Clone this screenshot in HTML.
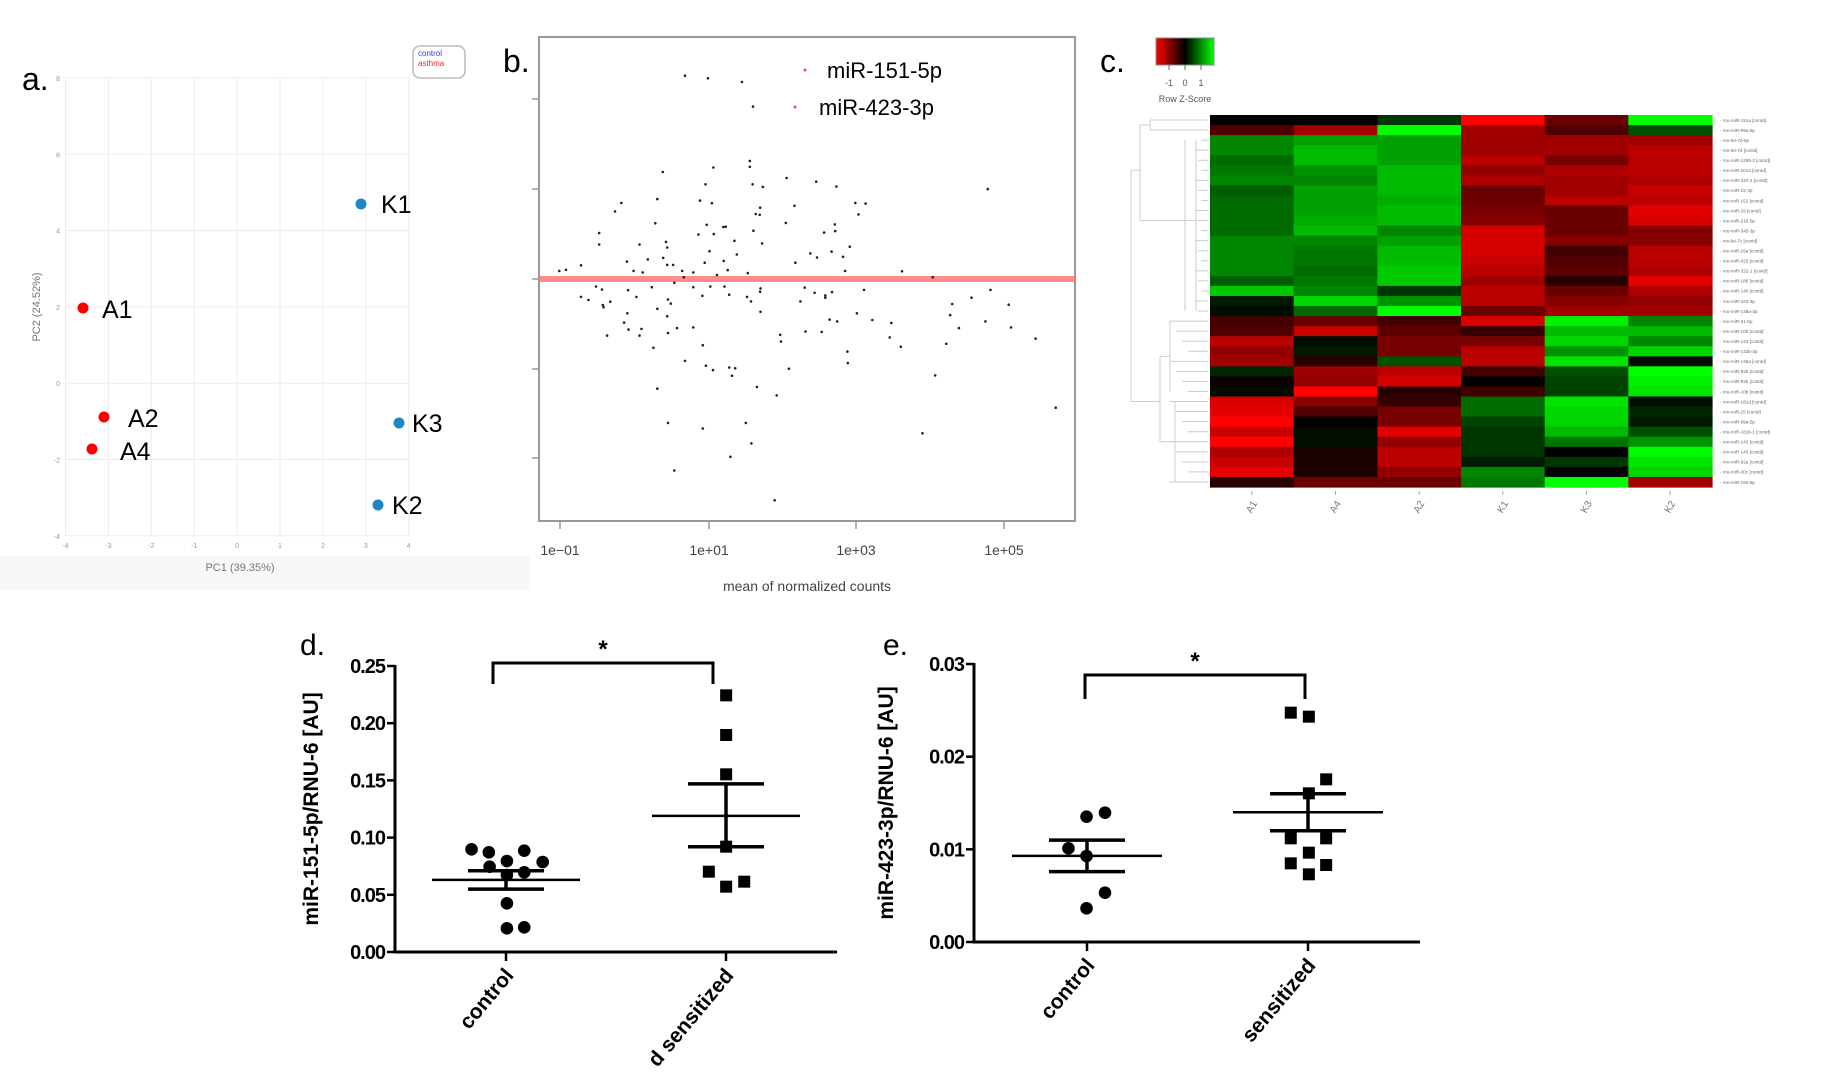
<!DOCTYPE html>
<html><head><meta charset="utf-8"><style>
html,body{margin:0;padding:0;background:#fff;}
svg{display:block;font-family:"Liberation Sans",Arial,sans-serif;}
</style></head><body>
<svg id="s" width="1824" height="1080" viewBox="0 0 1824 1080" xmlns="http://www.w3.org/2000/svg">
<rect width="1824" height="1080" fill="#fff"/>
<!-- panel a -->
<rect x="0" y="556" width="530" height="34" fill="#f7f8fa"/>
<g id="pa"></g>
<text x="22" y="90" font-size="32">a.</text>
<rect x="413" y="46" width="52" height="32" rx="7" fill="#fff" stroke="#bbb" stroke-width="1.5"/>
<text x="418" y="56" font-size="8" fill="#33f">control</text>
<text x="418" y="66" font-size="8" fill="#f22">asthma</text>
<text x="240" y="571" font-size="11" fill="#777" text-anchor="middle">PC1 (39.35%)</text>
<text transform="translate(40,307) rotate(-90)" font-size="11" fill="#777" text-anchor="middle">PC2 (24.52%)</text>
<!-- panel b -->
<text x="503" y="72" font-size="32">b.</text>
<rect x="539" y="37" width="536" height="484" fill="none" stroke="#999" stroke-width="2"/>
<rect x="539" y="276" width="536" height="6" fill="#f77" opacity="0.85"/>
<g id="pb"></g>
<circle cx="805" cy="70" r="1.5" fill="#f44"/><circle cx="795" cy="107" r="1.5" fill="#f44"/>
<text x="827" y="78" font-size="22">miR-151-5p</text>
<text x="819" y="115" font-size="22">miR-423-3p</text>
<text x="807" y="591" font-size="14" fill="#444" text-anchor="middle">mean of normalized counts</text>
<!-- panel c -->
<text x="1100" y="72" font-size="32">c.</text>
<defs><linearGradient id="cb" x1="0" x2="1"><stop offset="0" stop-color="#f00"/><stop offset="0.5" stop-color="#000"/><stop offset="1" stop-color="#0f0"/></linearGradient></defs>
<rect x="1156" y="38" width="58" height="27" fill="url(#cb)" stroke="#888"/>
<g stroke="#666"><line x1="1169" y1="65" x2="1169" y2="70"/><line x1="1185" y1="65" x2="1185" y2="70"/><line x1="1201" y1="65" x2="1201" y2="70"/></g>
<text x="1169" y="86" font-size="9" fill="#555" text-anchor="middle">-1</text>
<text x="1185" y="86" font-size="9" fill="#555" text-anchor="middle">0</text>
<text x="1201" y="86" font-size="9" fill="#555" text-anchor="middle">1</text>
<text x="1185" y="102" font-size="9" fill="#555" text-anchor="middle">Row Z-Score</text>
<g id="pc"></g>
<!-- panel d -->
<g id="pd"></g>
<text x="300" y="655" font-size="30">d.</text>
<text x="883" y="655" font-size="30">e.</text>
</svg>
<script>
const NS="http://www.w3.org/2000/svg";
function el(p,t,a,txt){const e=document.createElementNS(NS,t);for(const k in a)e.setAttribute(k,a[k]);if(txt!==undefined)e.textContent=txt;document.getElementById(p).appendChild(e);return e;}
// panel a
for(let i=0;i<=8;i++){const x=65.5+i*42.9;el('pa','line',{x1:x,y1:78,x2:x,y2:536,stroke:'#ececec'});el('pa','text',{x:x,y:548,'font-size':7,fill:'#999','text-anchor':'middle'},String(i-4));}
for(let i=0;i<=6;i++){const y=78+i*76.3;el('pa','line',{x1:65.5,y1:y,x2:408.6,y2:y,stroke:'#ececec'});el('pa','text',{x:60,y:y+3,'font-size':7,fill:'#999','text-anchor':'end'},String(8-2*i));}
[[361,204,'#1f86c4','K1',381,213],[83,308,'#f00','A1',102,318],[104,417,'#f00','A2',128,427],[92,449,'#f00','A4',120,460],[399,423,'#1f86c4','K3',412,432],[378,505,'#1f86c4','K2',392,514]].forEach(p=>{el('pa','circle',{cx:p[0],cy:p[1],r:5.5,fill:p[2]});el('pa','text',{x:p[4],y:p[5],'font-size':25},p[3]);});
// panel b
[99,189,279,369,458].forEach(y=>el('pb','line',{x1:532,y1:y,x2:539,y2:y,stroke:'#999','stroke-width':1.5}));
[[560,'1e−01'],[709,'1e+01'],[856,'1e+03'],[1004,'1e+05']].forEach(t=>{el('pb','line',{x1:t[0],y1:521,x2:t[0],y2:529,stroke:'#999','stroke-width':1.5});el('pb','text',{x:t[0],y:555,'font-size':14,fill:'#444','text-anchor':'middle'},t[1]);});
const P=[[150,648],[167,645],[205,633],[205,718],[224,726],[243,690],[251,546],[251,577],[258,698],[260,740],[262,746],[271,822],[279,731],[291,488],[307,465],[314,787],[321,623],[322,762],[324,700],[325,806],[338,648],[345,718],[353,577],[353,822],[358,804],[361,652],[374,617],[384,692],[388,855],[393,520],[398,455],[398,750],[398,965],[412,382],[413,613],[420,570],[423,585],[423,632],[423,770],[425,725],[425,815],[425,1057],[432,736],[438,632],[441,680],[441,1185],[448,802],[461,648],[465,665],[468,123],[468,890],[489,652],[489,692],[489,800],[502,550],[506,459],[512,715],[513,848],[513,1072],[518,626],[520,415],[521,903],[523,524],[526,130],[530,595],[532,690],[536,466],[539,915],[540,370],[541,549],[549,659],[565,530],[566,621],[568,690],[571,529],[576,646],[580,712],[580,908],[583,1148],[587,930],[593,567],[595,910],[599,604],[612,140],[622,1057],[625,718],[627,654],[632,352],[632,368],[635,730],[636,1112],[639,415],[640,206],[641,540],[647,495],[650,960],[657,497],[658,478],[658,704],[659,695],[659,758],[663,574],[665,422],[695,1265],[700,983],[709,820],[711,838],[723,519],[725,398],[731,911],[745,473],[747,626],[760,730],[771,693],[773,811],[785,601],[796,707],[800,408],[802,612],[814,812],[820,545],[823,720],[823,714],[834,779],[839,596],[840,705],[847,523],[848,541],[851,421],[853,784],[868,610],[873,648],[879,865],[880,896],[885,583],[899,465],[903,762],[907,496],[921,699],[925,467],[942,780],[986,827],[990,788],[1014,852],[1017,649],[1069,1085],[1095,665],[1101,929],[1129,844],[1139,767],[1144,737],[1161,802],[1193,720],[1228,784],[1234,428],[1241,699],[1287,739],[1293,800],[1355,830],[1406,1016]];
P.forEach(p=>el('pb','circle',{cx:(p[0]/2.53+500).toFixed(1),cy:(p[1]/2.69+30).toFixed(1),r:1.3,fill:'#222'}));
// panel c heatmap
const M=[[0,0,.2,-1,-.4,1],[-.3,-.6,1,-.6,-.3,.3],[.5,.6,.6,-.6,-.6,-.6],[.5,.7,.6,-.6,-.6,-.7],[.4,.7,.6,-.7,-.45,-.7],[.45,.55,.7,-.55,-.65,-.7],[.5,.5,.7,-.65,-.6,-.65],[.35,.6,.7,-.4,-.6,-.75],[.4,.6,.65,-.4,-.7,-.7],[.4,.6,.7,-.45,-.4,-.85],[.4,.65,.7,-.5,-.4,-.8],[.4,.7,.5,-.8,-.4,-.5],[.5,.5,.6,-.8,-.5,-.5],[.5,.45,.7,-.8,-.25,-.7],[.5,.45,.7,-.75,-.3,-.7],[.5,.4,.75,-.7,-.35,-.65],[.35,.45,.75,-.6,-.15,-.85],[.75,.5,.2,-.7,-.4,-.65],[.1,.8,.55,-.7,-.5,-.55],[.05,.4,1,-.4,-.6,-.6],[-.25,-.4,-.25,-.8,.9,.5],[-.3,-.75,-.35,-.2,.7,.7],[-.7,.05,-.45,-.45,.8,.5],[-.55,.1,-.45,-.7,.55,.8],[-.6,-.15,.3,-.7,.85,.05],[.15,-.6,-.7,-.25,.3,1],[-.05,-.55,-.8,0,.25,.9],[.05,-1,-.15,-.25,.25,.85],[-.8,-.5,-.2,.4,.85,.05],[-.85,-.3,-.45,.4,.8,.15],[-.95,0,-.45,.25,.8,.1],[-.75,.05,-.85,.2,.7,.3],[-1,.05,-.55,.2,.45,.55],[-.65,-.1,-.7,.2,0,.95],[-.75,-.1,-.7,.1,.2,.85],[-.85,-.1,-.55,.5,0,.8],[-.15,-.4,-.4,.45,1,-.6]];
const hx=1210,hy=115,cw=(1712-1210)/6,rh=(487-115)/37;
const names=["rno-miR-151a [contd]","rno-miR-99a-5p","rno-let-7d-5p","rno-let-7d [contd]","rno-miR-125b-2 [contd]","rno-miR-201a [contd]","rno-miR-322-2 [contd]","rno-miR-22-3p","rno-miR-151 [contd]","rno-miR-29 [contd]","rno-miR-218-5p","rno-miR-345-3p","rno-let-7c [contd]","rno-miR-25a [contd]","rno-miR-423 [contd]","rno-miR-322-1 [contd]","rno-miR-186 [contd]","rno-miR-140 [contd]","rno-miR-423-3p","rno-miR-148a-3p","rno-miR-21-5p","rno-miR-10b [contd]","rno-miR-143 [contd]","rno-miR-143b-3p","rno-miR-146a [contd]","rno-miR-92b [contd]","rno-miR-92b [contd]","rno-miR-10b [contd]","rno-miR-181d [contd]","rno-miR-25 [contd]","rno-miR-99a-5p","rno-miR-181b-1 [contd]","rno-miR-143 [contd]","rno-miR-143 [contd]","rno-miR-92a [contd]","rno-miR-30c [contd]","rno-miR-194-5p"];
M.forEach((r,i)=>{r.forEach((v,j)=>{const c=v<0?`rgb(${Math.round(255*Math.min(1,-v*1.05))},0,0)`:`rgb(0,${Math.round(255*Math.min(1,v*1.05))},0)`;el('pc','rect',{x:(hx+j*cw).toFixed(2),y:(hy+i*rh).toFixed(2),width:(cw+0.6).toFixed(2),height:(rh+0.6).toFixed(2),fill:c});});
el('pc','text',{x:1720,y:(hy+i*rh+rh/2+1.8).toFixed(1),'font-size':4.6,fill:'#666'},'- '+names[i]);});
['A1','A4','A2','K1','K3','K2'].forEach((t,j)=>{const x=hx+j*cw+cw/2;el('pc','line',{x1:x,y1:491,x2:x,y2:495,stroke:'#aaa'});el('pc','text',{x:x,y:510,'font-size':10,fill:'#777','text-anchor':'middle',transform:`rotate(-60 ${x} 507)`},t);});
// dendrogram
const dg=el('pc','g',{stroke:'#ccc','stroke-width':1,fill:'none'});
function L(x1,y1,x2,y2){const e=document.createElementNS(NS,'line');e.setAttribute('x1',x1);e.setAttribute('y1',y1);e.setAttribute('x2',x2);e.setAttribute('y2',y2);dg.appendChild(e);}
function ry(i){return hy+i*rh+rh/2;}
L(1150,ry(0),1208,ry(0));L(1150,ry(1),1208,ry(1));L(1150,ry(0),1150,ry(1));
for(let i=2;i<20;i++){L(1195+ (i%3)*3,ry(i),1208,ry(i));}
L(1196,ry(2),1196,ry(19));L(1185,ry(10),1196,ry(10));
L(1150,ry(.5),1140,ry(.5));L(1140,ry(.5),1140,ry(10));L(1140,ry(10),1185,ry(10));L(1185,ry(2),1185,ry(19));
for(let i=20;i<37;i++){L(1170+(i%4)*6,ry(i),1208,ry(i));}
L(1170,ry(20),1170,ry(27));L(1175,ry(28),1175,ry(36));L(1160,ry(23.5),1170,ry(23.5));L(1160,ry(32),1175,ry(32));L(1160,ry(23.5),1160,ry(32));
L(1131,ry(5),1140,ry(5));L(1131,ry(28),1160,ry(28));L(1131,ry(5),1131,ry(28));
// panels d,e
function panel(o){
 const {ax,y0,y1,vmax,xend,c1,c2,ticks,fmt,lab,br,ctl,sen,m1,m2,mw,sw}=o;
 const Y=v=>y0-(v/vmax)*(y0-y1);
 el('pd','line',{x1:ax,y1:y1-1,x2:ax,y2:y0,stroke:'#000','stroke-width':3});
 el('pd','line',{x1:ax-1.5,y1:y0,x2:xend,y2:y0,stroke:'#000','stroke-width':3});
 ticks.forEach(v=>{el('pd','line',{x1:ax-8,y1:Y(v),x2:ax,y2:Y(v),stroke:'#000','stroke-width':2.5});el('pd','text',{x:ax-10,y:Y(v)+7,'font-size':20,'font-weight':'bold','text-anchor':'end','letter-spacing':'-1'},v.toFixed(fmt));});
 [c1,c2].forEach(x=>el('pd','line',{x1:x,y1:y0,x2:x,y2:y0+9,stroke:'#000','stroke-width':2.5}));
 el('pd','text',{transform:`translate(${lab[0]},${(y0+y1)/2}) rotate(-90)`,'font-size':21,'font-weight':'bold','text-anchor':'middle'},lab[1]);
 el('pd','path',{d:`M${br[0]} ${br[3]}V${br[2]}H${br[1]}V${br[3]}`,fill:'none',stroke:'#000','stroke-width':3});
 el('pd','text',{x:(br[0]+br[1])/2,y:br[2]-6,'font-size':24,'font-weight':'bold','text-anchor':'middle'},'*');
 ctl.forEach(p=>el('pd','circle',{cx:p[0],cy:p[1],r:6.3,fill:'#000'}));
 sen.forEach(p=>el('pd','rect',{x:p[0]-6,y:p[1]-6,width:12,height:12,fill:'#000'}));
 [[c1,m1,mw],[c2,m2,sw]].forEach(([c,m,w])=>{
  el('pd','line',{x1:c-w[0],y1:Y(m[0]),x2:c+w[0],y2:Y(m[0]),stroke:'#000','stroke-width':2.5});
  el('pd','line',{x1:c-w[1],y1:Y(m[1]),x2:c+w[1],y2:Y(m[1]),stroke:'#000','stroke-width':3.5});
  el('pd','line',{x1:c-w[1],y1:Y(m[2]),x2:c+w[1],y2:Y(m[2]),stroke:'#000','stroke-width':3.5});
  el('pd','line',{x1:c,y1:Y(m[1]),x2:c,y2:Y(m[2]),stroke:'#000','stroke-width':3.5});});
 el('pd','text',{x:c1+4,y:y0+26,'font-size':21,'font-weight':'bold','text-anchor':'end',transform:`rotate(-50 ${c1+4} ${y0+20})`},'control');
 el('pd','text',{x:c2+4,y:y0+26,'font-size':21,'font-weight':'bold','text-anchor':'end',transform:`rotate(-50 ${c2+4} ${y0+20})`},o.sname);
}
const cv=(p,ox)=>p.map(q=>[q[0]/2.6+ox,q[1]/3+640]);
panel({ax:395,y0:952,y1:666,vmax:0.25,xend:837,c1:506,c2:726,ticks:[0,0.05,0.1,0.15,0.2,0.25],fmt:2,lab:[318,'miR-151-5p/RNU-6 [AU]'],br:[493,713,663,684],
 ctl:cv([[498,628],[543,637],[635,632],[590,663],[683,666],[545,680],[590,705],[635,697],[590,790],[590,865],[635,862]],280),
 sen:cv([[1160,166],[1160,285],[1160,403],[1160,620],[1115,695],[1160,740],[1207,725]],280),
 m1:[0.063,0.071,0.055],m2:[0.119,0.147,0.092],mw:[74,38],sw:[74,38],sname:'d sensitized'});
panel({ax:974,y0:942,y1:664,vmax:0.03,xend:1420,c1:1087,c2:1308,ticks:[0,0.01,0.02,0.03],fmt:2,lab:[893,'miR-423-3p/RNU-6 [AU]'],br:[1085,1305,675,699],
 ctl:cv([[537,530],[585,518],[490,625],[537,648],[585,758],[537,805]],880),
 sen:cv([[1068,218],[1115,230],[1160,418],[1115,460],[1068,595],[1160,595],[1115,638],[1068,670],[1160,675],[1115,703]],880),
 m1:[0.0093,0.011,0.0076],m2:[0.014,0.016,0.012],mw:[75,38],sw:[75,38],sname:'sensitized'});
// clip the d label bottom like reference
el('pd','rect',{x:560,y:1066,width:260,height:14,fill:'#fff'});
</script>
</body></html>
